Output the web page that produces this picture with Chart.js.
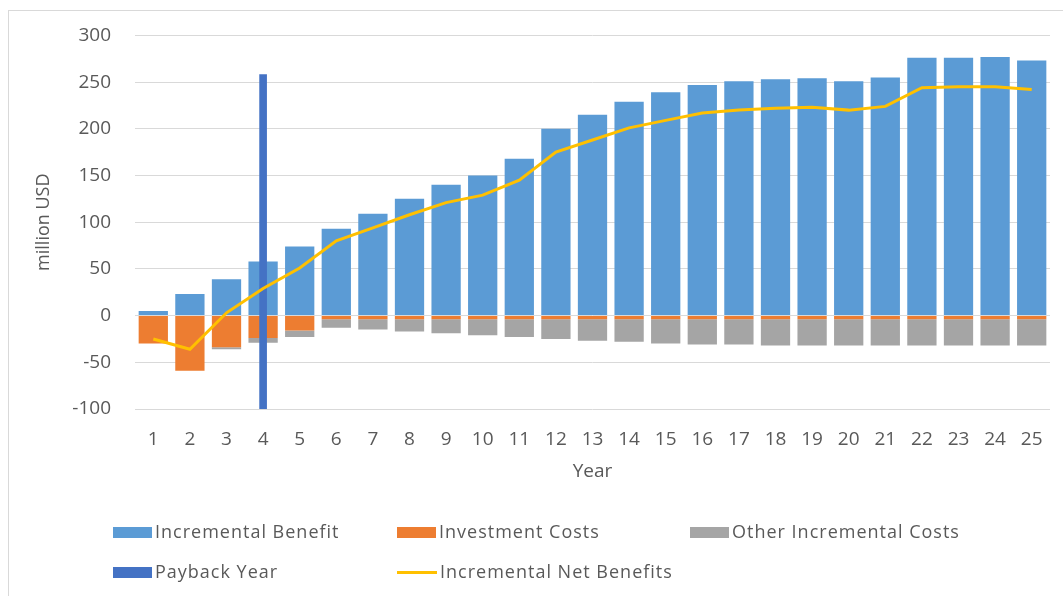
<!DOCTYPE html>
<html>
<head>
<meta charset="utf-8">
<script src="https://cdn.jsdelivr.net/npm/chart.js@4.4.1/dist/chart.umd.min.js"></script>
<style>
  html, body { margin: 0; padding: 0; background: #fff; }
  #wrap { position: relative; width: 1063px; height: 596px; overflow: hidden; }
  #frame { position: absolute; left: 8px; top: 10px; width: 1100px; height: 640px; border: 1px solid #d9d9d9; }
  #c { position: absolute; left: 0; top: 0; }
  .lg { position: absolute; font-family: "Open Sans", sans-serif; font-size: 18px; letter-spacing: 1px; color: #595959; white-space: nowrap; line-height: 22px; }
  .lg i { display: inline-block; vertical-align: middle; margin-right: 3px; position: relative; top: -1px; }
</style>
</head>
<body>
<div id="wrap">
  <div id="frame"></div>
  <canvas id="c" width="1063" height="596"></canvas>
  <div id="legend"></div>
</div>
<script>
// years 1..25
const years = ['1','2','3','4','5','6','7','8','9','10','11','12','13','14','15','16','17','18','19','20','21','22','23','24','25'];

// million USD
const incrementalBenefit = [5, 23, 39, 58, 74, 93, 109, 125, 140, 150, 168, 200, 215, 229, 239, 247, 251, 253, 254, 251, 255, 276, 276, 277, 273];
const investmentCosts = [-30, -59, -34, -24, -16, -4, -4, -4, -4, -4, -4, -4, -4, -4, -4, -4, -4, -4, -4, -4, -4, -4, -4, -4, -4];
const otherIncrementalCosts = [0, 0, -2, -5, -7, -9, -11, -13, -15, -17, -19, -21, -23, -24, -26, -27, -27, -28, -28, -28, -28, -28, -28, -28, -28];
const netBenefits = [-25, -36, 3, 29, 51, 80, 94, 108, 121, 129, 145, 175, 188, 201, 209, 217, 220, 222, 223, 220, 224, 244, 245, 245, 242];
const paybackYear = '4';
const paybackRange = [-100, 258];

const yTicks = { min: -100, max: 300, step: 50 };

const textColor = '#595959';
const fontFamily = '"Open Sans", sans-serif';

const paybackData = years.map(y => y === paybackYear ? paybackRange : null);

const ctx = document.getElementById('c');

const chart = new Chart(ctx, {
    type: 'bar',
    data: {
        labels: years,
        datasets: [
            {
                type: 'line',
                label: 'Incremental Net Benefits',
                data: netBenefits,
                borderColor: '#FFC000',
                backgroundColor: '#FFC000',
                borderWidth: 3,
                pointRadius: 0,
                tension: 0,
                order: 0
            },
            {
                label: 'Payback Year',
                data: paybackData,
                backgroundColor: '#4472C4',
                stack: 'pb',
                grouped: false,
                barThickness: 7,
                order: 1
            },
            {
                label: 'Incremental Benefit',
                data: incrementalBenefit,
                backgroundColor: '#5B9BD5',
                order: 2
            },
            {
                label: 'Investment Costs',
                data: investmentCosts,
                backgroundColor: '#ED7D31',
                order: 3
            },
            {
                label: 'Other Incremental Costs',
                data: otherIncrementalCosts,
                backgroundColor: '#A5A5A5',
                order: 4
            }
        ]
    },
    options: {
        responsive: false,
        animation: false,
        layout: { padding: { left: 0, top: 34, right: 13, bottom: 107 } },
        datasets: { bar: { categoryPercentage: 1, barPercentage: 0.8 } },
        plugins: { legend: { display: false }, tooltip: { enabled: false } },
        scales: {
            x: {
                stacked: true,
                grid: { display: false, drawTicks: false },
                border: { display: false },
                ticks: { color: textColor, font: { family: fontFamily, size: 19 }, padding: 19, maxRotation: 0, autoSkip: false },
                title: { display: true, text: 'Year', color: textColor, font: { family: fontFamily, size: 19 }, padding: { top: 4, bottom: 6 } },
                afterFit: s => { s.height = 80; }
            },
            y: {
                stacked: true,
                min: yTicks.min,
                max: yTicks.max,
                grid: { color: '#d9d9d9', lineWidth: 1, drawTicks: false },
                border: { display: false },
                ticks: { stepSize: yTicks.step, color: textColor, font: { family: fontFamily, size: 19 }, padding: 24 },
                title: { display: true, text: 'million USD', color: textColor, font: { family: fontFamily, size: 18 }, padding: { top: 33, bottom: 0 } },
                afterFit: s => { s.width = 135; }
            }
        }
    }
});

// legend laid out like the original, two rows
const legendSpots = {
    'Incremental Benefit': [113, 520],
    'Investment Costs': [397, 520],
    'Other Incremental Costs': [690, 520],
    'Payback Year': [113, 560],
    'Incremental Net Benefits': [397, 560]
};
const legendEl = document.getElementById('legend');
chart.data.datasets.forEach(ds => {
    const spot = legendSpots[ds.label];
    const div = document.createElement('div');
    div.className = 'lg';
    div.style.left = spot[0] + 'px';
    div.style.top = spot[1] + 'px';
    const mark = ds.type === 'line'
        ? '<i style="width:40px;height:3px;background:' + ds.borderColor + '"></i>'
        : '<i style="width:39px;height:11px;background:' + ds.backgroundColor + '"></i>';
    div.innerHTML = mark + ds.label;
    legendEl.appendChild(div);
});
</script>
</body>
</html>
